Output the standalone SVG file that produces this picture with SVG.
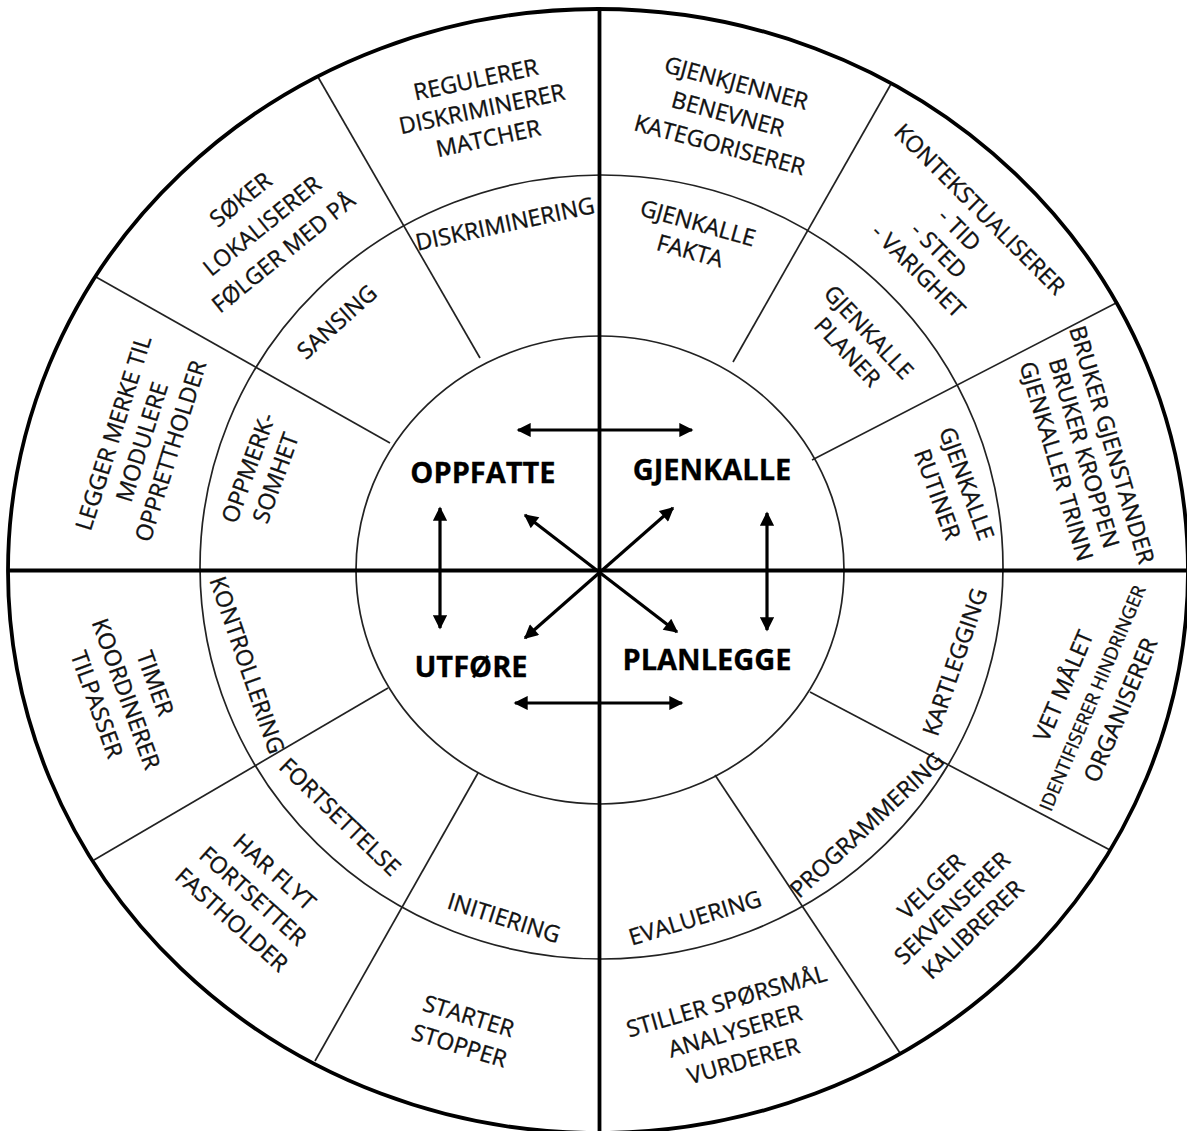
<svg xmlns="http://www.w3.org/2000/svg" width="1187" height="1131" viewBox="0 0 1187 1131">
<style>
.thin{fill:none;stroke:#222;stroke-width:1.7}
.thick{fill:none;stroke:#000;stroke-width:3.8}
.arr{fill:none;stroke:#000;stroke-width:3.2;marker-start:url(#ah);marker-end:url(#ah)}
text{font-family:'Open Sans','Liberation Sans',sans-serif;fill:#111;stroke:#111;stroke-width:0.35}
.t{font-size:23px;text-anchor:middle}
.s{font-size:18.5px;text-anchor:middle}
.b{font-size:29px;font-weight:bold;text-anchor:middle;fill:#000;stroke:#000;stroke-width:0.3}
</style>
<defs>
<marker id="ah" viewBox="0 0 10 10" refX="9" refY="5" markerWidth="5" markerHeight="4.4" orient="auto-start-reverse" markerUnits="strokeWidth">
<path d="M0,0 L10,5 L0,10 Z" fill="#000"/>
</marker>
</defs>
<rect width="1187" height="1131" fill="#fff"/>
<g id="connectors">
<line class="thin" x1="96" y1="277" x2="390" y2="443"/>
<line class="thin" x1="318" y1="77" x2="480" y2="358"/>
<line class="thin" x1="891" y1="84" x2="733" y2="362"/>
<line class="thin" x1="1118" y1="302" x2="812" y2="460"/>
<line class="thin" x1="94" y1="860" x2="388" y2="688"/>
<line class="thin" x1="315" y1="1061" x2="478" y2="773"/>
<line class="thin" x1="900" y1="1053" x2="715" y2="775"/>
<line class="thin" x1="1110" y1="850" x2="810" y2="692"/>
<ellipse class="thin" cx="600" cy="570" rx="244" ry="234"/>
<ellipse class="thin" cx="601.5" cy="567" rx="401.5" ry="392"/>
<ellipse class="thick" cx="598" cy="571" rx="590" ry="562"/>
<line class="thick" x1="599.5" y1="9" x2="599.5" y2="1131"/>
<line class="thick" x1="8" y1="570.5" x2="1187" y2="570.5"/>
<line class="arr" x1="518" y1="430" x2="692" y2="430"/>
<line class="arr" x1="515" y1="703" x2="682" y2="703"/>
<line class="arr" x1="440" y1="508" x2="440" y2="628"/>
<line class="arr" x1="767" y1="513" x2="767" y2="630"/>
<line class="arr" x1="525" y1="515" x2="677" y2="632"/>
<line class="arr" x1="673" y1="508" x2="525" y2="638"/>
</g>
<g id="center-labels">
<text class="b" x="483" y="483">OPPFATTE</text>
<text class="b" x="712" y="480">GJENKALLE</text>
<text class="b" x="471" y="677">UTFØRE</text>
<text class="b" x="707" y="670">PLANLEGGE</text>
</g>
<g id="n-regulerer" transform="translate(482 109) rotate(-12)"><text class="t"><tspan x="0" y="-22">REGULERER</tspan><tspan x="0" y="8">DISKRIMINERER</tspan><tspan x="0" y="38">MATCHER</tspan></text></g>
<g id="n-diskriminering" transform="translate(505 224) rotate(-12)"><text class="t" x="0" y="8">DISKRIMINERING</text></g>
<g id="n-soker" transform="translate(262 226) rotate(-39)"><text class="t"><tspan x="0" y="-26">SØKER</tspan><tspan x="0" y="8">LOKALISERER</tspan><tspan x="0" y="42">FØLGER MED PÅ</tspan></text></g>
<g id="n-sansing" transform="translate(337 322) rotate(-42)"><text class="t" x="0" y="8">SANSING</text></g>
<g id="n-legger" transform="translate(142 442) rotate(-72.5)"><text class="t"><tspan x="0" y="-22">LEGGER MERKE TIL</tspan><tspan x="0" y="8">MODULERE</tspan><tspan x="0" y="38">OPPRETTHOLDER</tspan></text></g>
<g id="n-oppmerksomhet" transform="translate(262 473) rotate(-70)"><text class="t"><tspan x="0" y="-6.5">OPPMERK-</tspan><tspan x="0" y="22.5">SOMHET</tspan></text></g>
<g id="n-gjenkjenner" transform="translate(728 114) rotate(15)"><text class="t"><tspan x="0" y="-24">GJENKJENNER</tspan><tspan x="0" y="8">BENEVNER</tspan><tspan x="0" y="40">KATEGORISERER</tspan></text></g>
<g id="n-fakta" transform="translate(694 237) rotate(15.5)"><text class="t"><tspan x="0" y="-6.5">GJENKALLE</tspan><tspan x="0" y="22.5">FAKTA</tspan></text></g>
<g id="n-kontekst" transform="translate(949 240) rotate(45)"><text class="t"><tspan x="0" y="-35.5">KONTEKSTUALISERER</tspan><tspan x="0" y="-6.5">- TID</tspan><tspan x="0" y="22.5">- STED</tspan><tspan x="0" y="51.5">- VARIGHET</tspan></text></g>
<g id="n-planer" transform="translate(858 342) rotate(47)"><text class="t"><tspan x="0" y="-6.5">GJENKALLE</tspan><tspan x="0" y="22.5">PLANER</tspan></text></g>
<g id="n-bruker" transform="translate(1084 453) rotate(73.5)"><text class="t"><tspan x="0" y="-21">BRUKER GJENSTANDER</tspan><tspan x="0" y="8">BRUKER KROPPEN</tspan><tspan x="0" y="37">GJENKALLER TRINN</tspan></text></g>
<g id="n-rutiner" transform="translate(952 489) rotate(70)"><text class="t"><tspan x="0" y="-7.5">GJENKALLE</tspan><tspan x="0" y="23.5">RUTINER</tspan></text></g>
<g id="n-kartlegging" transform="translate(955 662) rotate(-71)"><text class="t" x="0" y="8">KARTLEGGING</text></g>
<g id="n-vet" transform="translate(1092 698) rotate(-67)"><text class="t"><tspan x="0" y="-23">VET MÅLET</tspan></text><text class="s" x="0" y="7">IDENTIFISERER HINDRINGER</text><text class="t" x="0" y="39">ORGANISERER</text></g>
<g id="n-programmering" transform="translate(867 825) rotate(-43)"><text class="t" x="0" y="8">PROGRAMMERING</text></g>
<g id="n-velger" transform="translate(952 908) rotate(-44)"><text class="t"><tspan x="0" y="-22">VELGER</tspan><tspan x="0" y="8">SEKVENSERER</tspan><tspan x="0" y="38">KALIBRERER</tspan></text></g>
<g id="n-evaluering" transform="translate(695 918) rotate(-17)"><text class="t" x="0" y="8">EVALUERING</text></g>
<g id="n-stiller" transform="translate(735 1031) rotate(-16)"><text class="t"><tspan x="0" y="-23">STILLER SPØRSMÅL</tspan><tspan x="0" y="8">ANALYSERER</tspan><tspan x="0" y="39">VURDERER</tspan></text></g>
<g id="n-initiering" transform="translate(504 918) rotate(17.5)"><text class="t" x="0" y="8">INITIERING</text></g>
<g id="n-starter" transform="translate(464 1031) rotate(17)"><text class="t"><tspan x="0" y="-7.5">STARTER</tspan><tspan x="0" y="23.5">STOPPER</tspan></text></g>
<g id="n-fortsettelse" transform="translate(340 817) rotate(44)"><text class="t" x="0" y="8">FORTSETTELSE</text></g>
<g id="n-harflyt" transform="translate(253 896) rotate(42)"><text class="t"><tspan x="0" y="-24">HAR FLYT</tspan><tspan x="0" y="8">FORTSETTER</tspan><tspan x="0" y="40">FASTHOLDER</tspan></text></g>
<g id="n-kontrollering" transform="translate(247 665) rotate(71)"><text class="t" x="0" y="8">KONTROLLERING</text></g>
<g id="n-timer" transform="translate(126 694) rotate(70)"><text class="t"><tspan x="0" y="-23">TIMER</tspan><tspan x="0" y="8">KOORDINERER</tspan><tspan x="0" y="39">TILPASSER</tspan></text></g>
</svg>
